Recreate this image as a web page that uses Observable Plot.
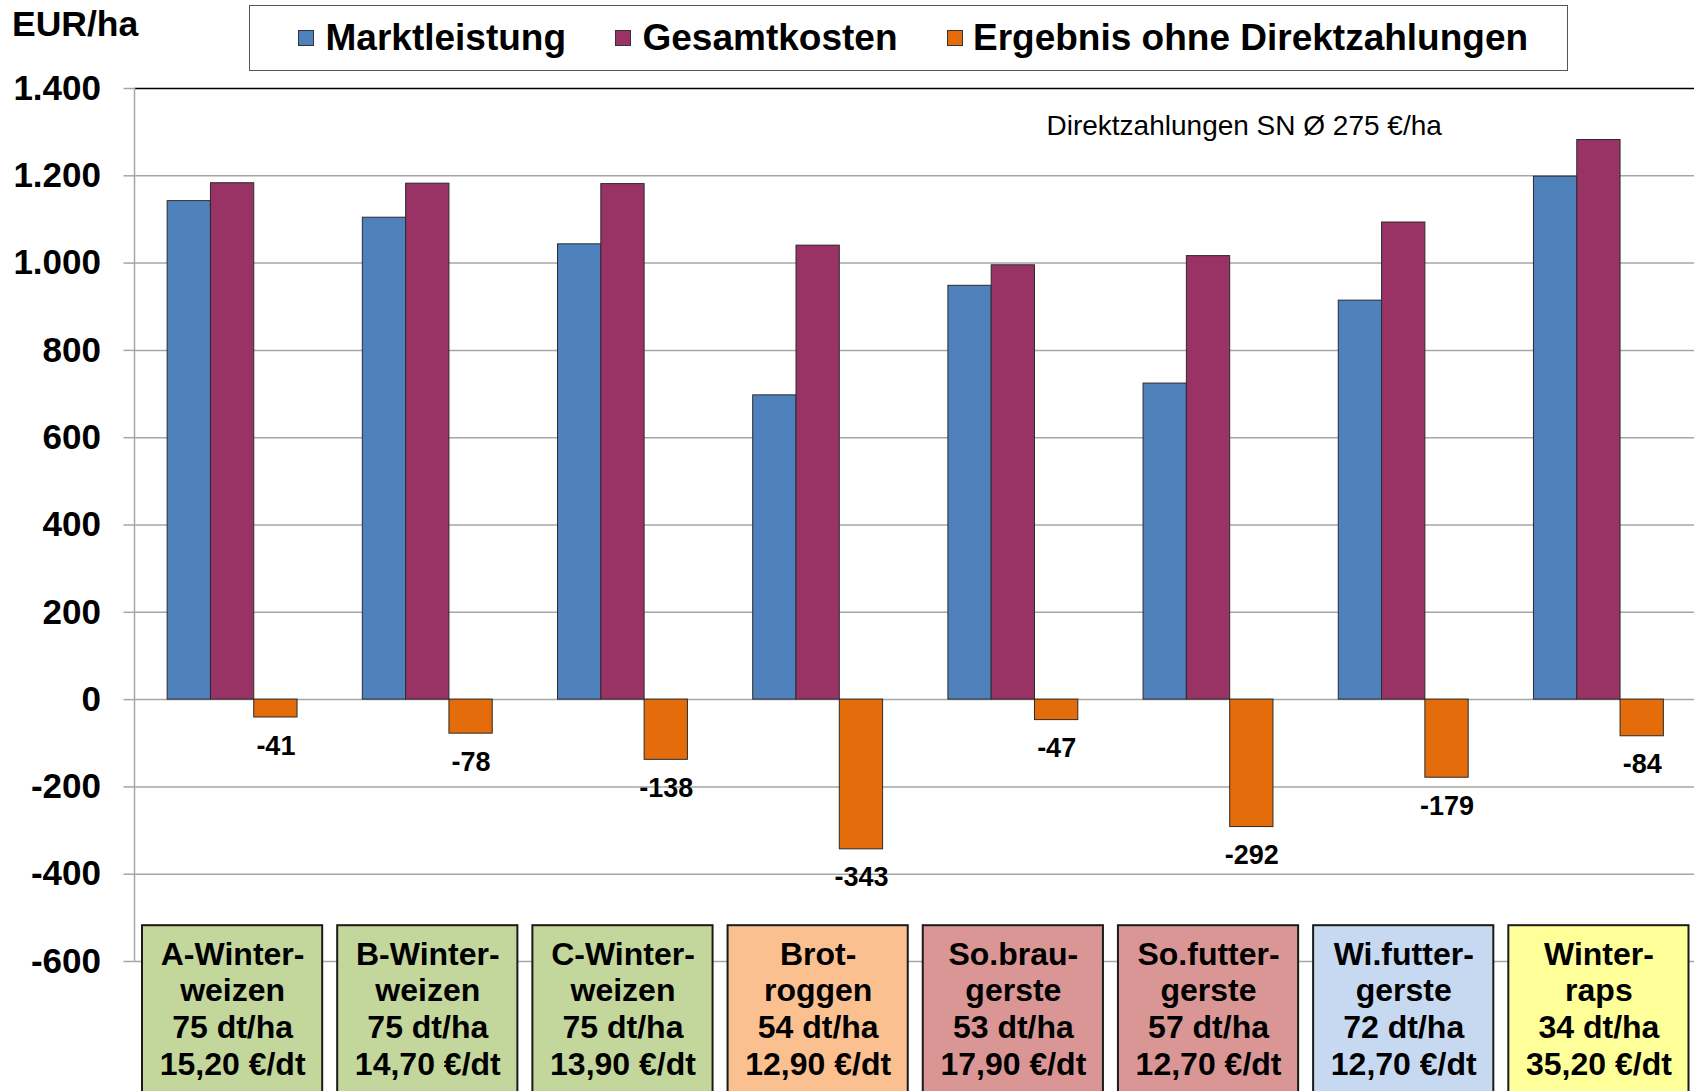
<!DOCTYPE html>
<html>
<head>
<meta charset="utf-8">
<script src="https://cdn.jsdelivr.net/npm/d3@7"></script>
<script src="https://cdn.jsdelivr.net/npm/@observablehq/plot@0.6"></script>
<style>
  html, body { margin: 0; padding: 0; background: #fff; overflow: hidden; }
  #wrap { position: relative; width: 1694px; height: 1091px; font-family: "Liberation Sans", Arial, sans-serif; }
  #wrap svg { position: absolute; left: 0; top: 0; }
  .ov { position: absolute; white-space: nowrap; line-height: 1; color: #000; }
  #unit { left: 12px; top: 7px; font-size: 35.5px; font-weight: bold; }
  #legend { position: absolute; left: 249px; top: 5px; width: 1317px; height: 64px; border: 1.5px solid #555; background: #fff; }
  .sw { position: absolute; top: 24px; width: 14px; height: 14px; border: 1px solid #333; }
  .lt { position: absolute; top: 13px; font-size: 37px; font-weight: bold; line-height: 1; white-space: nowrap; }
</style>
</head>
<body>
<div id="wrap"></div>
<script>
// ---- data ----
const categories = ["A-Winterweizen", "B-Winterweizen", "C-Winterweizen", "Brotroggen",
  "So.braugerste", "So.futtergerste", "Wi.futtergerste", "Winterraps"];
const categoryLabels = [
  "A-Winter-\nweizen\n75 dt/ha\n15,20 €/dt",
  "B-Winter-\nweizen\n75 dt/ha\n14,70 €/dt",
  "C-Winter-\nweizen\n75 dt/ha\n13,90 €/dt",
  "Brot-\nroggen\n54 dt/ha\n12,90 €/dt",
  "So.brau-\ngerste\n53 dt/ha\n17,90 €/dt",
  "So.futter-\ngerste\n57 dt/ha\n12,70 €/dt",
  "Wi.futter-\ngerste\n72 dt/ha\n12,70 €/dt",
  "Winter-\nraps\n34 dt/ha\n35,20 €/dt"
];
const cropGroups = ["Weizen", "Weizen", "Weizen", "Roggen", "Sommergerste", "Sommergerste", "Wintergerste", "Raps"];
const seriesNames = ["Marktleistung", "Gesamtkosten", "Ergebnis ohne Direktzahlungen"];
const marktleistung = [1142, 1104, 1043, 697, 948, 724, 914, 1198];
const gesamtkosten = [1183, 1182, 1181, 1040, 995, 1016, 1093, 1282];
const ergebnis = [-41, -78, -138, -343, -47, -292, -179, -84];
const yTicks = [-600, -400, -200, 0, 200, 400, 600, 800, 1000, 1200, 1400];
const unitLabel = "EUR/ha";
const note = "Direktzahlungen SN Ø 275 €/ha";

// ---- styles ----
const seriesColors = ["#4f81bd", "#993366", "#e46c0a"];
const groupColors = {Weizen: "#c3d69b", Roggen: "#fac090", Sommergerste: "#d99694", Wintergerste: "#c6d9f1", Raps: "#ffff99"};

const fmt = d3.formatLocale({decimal: ",", thousands: ".", grouping: [3], currency: ["", "€"], minus: "-"}).format(",.0f");

const rows = categories.map((c, i) => ({
  cat: c, m: marktleistung[i], g: gesamtkosten[i], e: ergebnis[i],
  label: categoryLabels[i], group: cropGroups[i]
}));

const W = 1694, H = 1091, ML = 134.5, MR = -2, MT = 88, MB = 130;
const step = (W - ML - MR) / categories.length;
const BW = 43.3;
const inset = (step - BW) / 2;
const boxInset = 7.5;

function yAxisLine(index, scales, values, dimensions) {
  const line = document.createElementNS("http://www.w3.org/2000/svg", "line");
  const x = dimensions.marginLeft;
  line.setAttribute("x1", x);
  line.setAttribute("x2", x);
  line.setAttribute("y1", scales.y(1400));
  line.setAttribute("y2", scales.y(-600));
  line.setAttribute("stroke", "#a6a6a6");
  line.setAttribute("stroke-width", 1.5);
  return line;
}

const barStyle = {stroke: "#2b2b2b", strokeWidth: 1, insetLeft: inset, insetRight: inset};

const chart = Plot.plot({
  width: W, height: H,
  marginLeft: ML, marginRight: MR, marginTop: MT, marginBottom: MB,
  style: {fontFamily: "'Liberation Sans', Arial, sans-serif", background: "transparent", color: "#000", overflow: "visible"},
  x: {domain: categories, padding: 0, round: false, axis: null},
  y: {domain: [-600, 1400], label: null},
  color: {type: "identity"},
  marks: [
    Plot.ruleY(yTicks.filter(t => t !== 1400), {stroke: "#a6a6a6", strokeWidth: 1.5}),
    Plot.ruleY([1400], {stroke: "#000", strokeWidth: 1.5}),
    Plot.axisY({ticks: yTicks, tickSize: 11, tickPadding: 23, tickFormat: fmt, fontSize: 35, fontWeight: "bold",
      stroke: "#a6a6a6", strokeWidth: 1.5, fill: "#000", label: null}),
    yAxisLine,
    Plot.barY(rows, {x: "cat", y: "m", fill: seriesColors[0], dx: -BW, ...barStyle}),
    Plot.barY(rows, {x: "cat", y: "g", fill: seriesColors[1], ...barStyle}),
    Plot.barY(rows, {x: "cat", y: "e", fill: seriesColors[2], dx: BW, ...barStyle}),
    Plot.text(rows, {x: "cat", y: "e", dx: BW, dy: 18, lineAnchor: "top", text: d => fmt(d.e),
      fontSize: 27, fontWeight: "bold", fill: "#000"}),
    Plot.barY(rows, {x: "cat", y1: -518, y2: -915, fill: d => groupColors[d.group], stroke: "#1a1a1a", strokeWidth: 2,
      insetLeft: boxInset, insetRight: boxInset}),
    Plot.text(rows, {x: "cat", y: -518, dy: 13, lineAnchor: "top", text: "label", lineHeight: 1.145,
      fontSize: 32, fontWeight: "bold", fill: "#000"}),
    Plot.text([note], {frameAnchor: "top-left", dx: 1046 - ML, dy: 38, lineAnchor: "middle", textAnchor: "start",
      fontSize: 28, fill: "#000"})
  ]
});

const wrap = document.getElementById("wrap");
wrap.appendChild(chart);

const unit = document.createElement("div");
unit.className = "ov";
unit.id = "unit";
unit.textContent = unitLabel;
wrap.appendChild(unit);

const legend = document.createElement("div");
legend.id = "legend";
const swatchLeft = [298, 615, 947.5];
const textLeft = [326, 643, 973.5];
const origin = 250.5;
seriesNames.forEach((name, i) => {
  const sw = document.createElement("div");
  sw.className = "sw";
  sw.style.left = (swatchLeft[i] - origin) + "px";
  sw.style.background = seriesColors[i];
  legend.appendChild(sw);
  const t = document.createElement("div");
  t.className = "lt";
  t.style.left = (textLeft[i] - origin) + "px";
  t.textContent = name;
  legend.appendChild(t);
});
wrap.appendChild(legend);
</script>
</body>
</html>
